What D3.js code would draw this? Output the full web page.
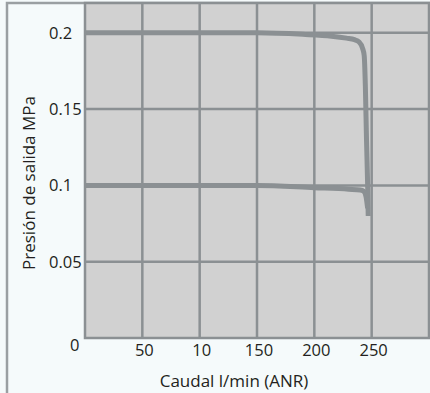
<!DOCTYPE html>
<html>
<head>
<meta charset="utf-8">
<script src="https://cdn.jsdelivr.net/npm/d3@7"></script>
<style>
  html, body { margin: 0; padding: 0; background: #f5fafb; }
  svg { display: block; font-family: "Open Sans", "Noto Sans", sans-serif; }
  .grid line { stroke: #8b9093; stroke-width: 2.5; }
  .tick-label { font-size: 16.5px; fill: #231f20; }
  .axis-title { font-size: 17px; fill: #231f20; }
</style>
</head>
<body>
<div id="chart"></div>
<script>
// Flow (l/min) vs outlet pressure (MPa)
const flowHigh = [0, 100, 150, 190, 215, 228, 235, 239, 242, 243.5, 244.5, 245.5, 246.5, 247];
const pressHigh = [0.2, 0.2, 0.2, 0.199, 0.1978, 0.1965, 0.1955, 0.194, 0.19, 0.185, 0.165, 0.13, 0.1, 0.08];

const flowLow = [0, 100, 150, 200, 230, 240, 243, 245, 246.5];
const pressLow = [0.1, 0.1, 0.1, 0.0985, 0.0975, 0.097, 0.0962, 0.093, 0.085];

const xTicks = [50, 100, 150, 200, 250];
const xTickLabels = ["50", "10", "150", "200", "250"];
const yTicks = [0, 0.05, 0.1, 0.15, 0.2];
const yTickLabels = ["0", "0.05", "0.1", "0.15", "0.2"];

const width = 430, height = 393;
const plot = { left: 85, right: 429, top: 2.3, bottom: 338 };
const lineColor = "#8b9093";

const svg = d3.select("#chart").append("svg")
  .attr("width", width)
  .attr("height", height);

const x = d3.scaleLinear().domain([0, 300]).range([plot.left, plot.right]);
const y = d3.scaleLinear().domain([0, 0.22]).range([plot.bottom, plot.top]);

// outer frame (left and top edges)
svg.append("path")
  .attr("d", `M7,${height} L7,3 L${width},3`)
  .attr("fill", "none")
  .attr("stroke", "#9a9fa2")
  .attr("stroke-width", 2.5);

// plot background
svg.append("rect")
  .attr("x", plot.left)
  .attr("y", 3)
  .attr("width", plot.right - plot.left)
  .attr("height", plot.bottom - 3)
  .attr("fill", "#d1d1d1");

const grid = svg.append("g").attr("class", "grid");
grid.selectAll(".vx")
  .data(xTicks)
  .enter().append("line")
  .attr("x1", d => x(d)).attr("x2", d => x(d))
  .attr("y1", 3).attr("y2", plot.bottom);
grid.selectAll(".hy")
  .data(yTicks.filter(d => d > 0))
  .enter().append("line")
  .attr("x1", plot.left).attr("x2", plot.right)
  .attr("y1", d => y(d)).attr("y2", d => y(d));

// plot border
svg.append("rect")
  .attr("x", plot.left)
  .attr("y", 3)
  .attr("width", plot.right - plot.left)
  .attr("height", plot.bottom - 3)
  .attr("fill", "none")
  .attr("stroke", lineColor)
  .attr("stroke-width", 2.5);

const line = d3.line()
  .x(d => x(d[0]))
  .y(d => y(d[1]))
  .curve(d3.curveMonotoneX);

[[flowHigh, pressHigh], [flowLow, pressLow]].forEach(([fx, py]) => {
  svg.append("path")
    .datum(fx.map((f, i) => [f, py[i]]))
    .attr("d", line)
    .attr("fill", "none")
    .attr("stroke", lineColor)
    .attr("stroke-width", 5)
    .attr("stroke-linejoin", "round");
});

// y tick labels (left aligned, except the zero)
svg.selectAll(".ylab")
  .data(yTicks)
  .enter().append("text")
  .attr("class", "tick-label")
  .attr("x", d => d === 0 ? 70 : 49)
  .attr("y", d => d === 0 ? y(d) + 13 : y(d) + 6)
  .text((d, i) => yTickLabels[i]);

// x tick labels
svg.selectAll(".xlab")
  .data(xTicks)
  .enter().append("text")
  .attr("class", "tick-label")
  .attr("text-anchor", "middle")
  .attr("x", d => x(d) + 2)
  .attr("y", plot.bottom + 18)
  .text((d, i) => xTickLabels[i]);

svg.append("text")
  .attr("class", "axis-title")
  .attr("text-anchor", "middle")
  .attr("x", 234)
  .attr("y", 387)
  .text("Caudal l/min (ANR)");

svg.append("text")
  .attr("class", "axis-title")
  .attr("text-anchor", "middle")
  .attr("transform", "translate(35, 183) rotate(-90)")
  .text("Presión de salida MPa");
</script>
</body>
</html>
